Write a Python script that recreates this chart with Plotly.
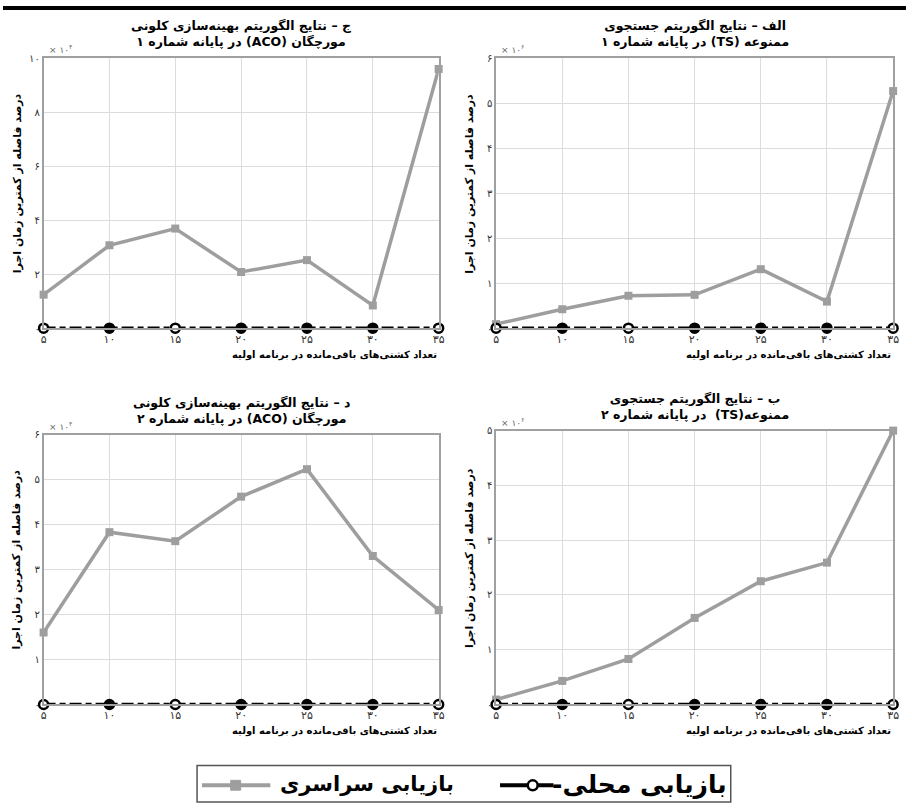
import plotly.graph_objects as go

# ---- data ----
ships = [5, 10, 15, 20, 25, 30, 35]
ship_labels = ["۵", "۱۰", "۱۵", "۲۰", "۲۵", "۳۰", "۳۵"]

# Global recovery (gray) per panel
aco_t1 = [1.24, 3.07, 3.69, 2.08, 2.52, 0.84, 9.6]      # ×10^4
ts_t1 = [0.09, 0.42, 0.72, 0.74, 1.31, 0.59, 5.27]      # ×10^6
aco_t2 = [1.6, 3.83, 3.63, 4.62, 5.23, 3.3, 2.1]        # ×10^4
ts_t2 = [0.09, 0.43, 0.83, 1.58, 2.25, 2.59, 5.0]       # ×10^6
# Local recovery (black)
local = [0, 0, 0, 0, 0, 0, 0]

ytick_vals = {
    "aco1": [0, 2, 4, 6, 8, 10],
    "ts1": [0, 1, 2, 3, 4, 5, 6],
    "aco2": [0, 1, 2, 3, 4, 5, 6],
    "ts2": [0, 1, 2, 3, 4, 5],
}
fa_digits = "۰۱۲۳۴۵۶۷۸۹"


def fa(n):
    return "".join(fa_digits[int(c)] for c in str(n))


def rtl(s):
    return "<br>".join("\u202b" + part + "\u202c" for part in s.split("<br>"))


titles = {
    "aco1": "ج – نتایج الگوریتم بهینه‌سازی کلونی<br>مورچگان (ACO) در پایانه شماره ۱",
    "ts1": "الف – نتایج الگوریتم جستجوی<br>ممنوعه (TS) در پایانه شماره ۱",
    "aco2": "د – نتایج الگوریتم بهینه‌سازی کلونی<br>مورچگان (ACO) در پایانه شماره ۲",
    "ts2": "ب – نتایج الگوریتم جستجوی<br>ممنوعه(TS)  در پایانه شماره ۲",
}
exps = {"aco1": "۴", "ts1": "۶", "aco2": "۴", "ts2": "۶"}
ytitle = "درصد فاصله از کمترین زمان اجرا"
xtitle = "تعداد کشتی‌های باقی‌مانده در برنامه اولیه"
legend_local = "بازیابی محلی"
legend_global = "بازیابی سراسری"

W, H = 912, 809
FONT = "DejaVu Sans"


def px(x):
    return x / W


def py(y):
    return 1 - y / H


panels = [
    # key, data, x0, x1, ytop, ybot, yrange
    ("aco1", aco_t1, 41, 440, 53, 327, 10),
    ("ts1", ts_t1, 498, 899, 53, 327, 6),
    ("aco2", aco_t2, 41, 440, 435, 709, 6),
    ("ts2", ts_t2, 498, 899, 431, 709, 5),
]

fig = go.Figure()
layout = {}
annotations = []
GRAY = "#9e9e9e"
open_pattern = ["white", "black", "white", "black", "black", "black", "white"]

for i, (key, vals, x0, x1, yt, yb, ymax) in enumerate(panels):
    n = "" if i == 0 else str(i + 1)
    xa, ya = "x" + n, "y" + n
    layout["xaxis" + n] = dict(
        domain=[px(x0), px(x1)], range=[5, 35], anchor=ya,
        tickvals=ships, ticktext=ship_labels, showgrid=True, gridcolor="#dcdcdc",
        showline=True, linecolor="#a0a0a0", linewidth=1.5, mirror=True, ticks="",
        tickfont=dict(family=FONT, size=11, color="#333"), zeroline=False,
    )
    yv = ytick_vals[key]
    layout["yaxis" + n] = dict(
        domain=[py(yb), py(yt)], range=[0, ymax], anchor=xa,
        tickvals=yv, ticktext=[fa(v) for v in yv], showgrid=True, gridcolor="#dcdcdc",
        showline=True, linecolor="#a0a0a0", linewidth=1.5, mirror=True, ticks="",
        tickfont=dict(family=FONT, size=10, color="#333"), zeroline=False,
    )
    fig.add_trace(go.Scatter(
        x=ships, y=vals, xaxis=xa, yaxis=ya, mode="lines+markers",
        line=dict(color=GRAY, width=3.5),
        marker=dict(symbol="square", size=8, color=GRAY),
        cliponaxis=False, showlegend=False,
    ))
    fig.add_trace(go.Scatter(
        x=ships, y=local, xaxis=xa, yaxis=ya, mode="lines+markers",
        line=dict(color="black", width=3.5, dash="12px,4px,6px,4px"),
        marker=dict(symbol="circle", size=9, color=open_pattern,
                    line=dict(color="black", width=2.5)),
        cliponaxis=False, showlegend=False,
    ))
    xc = (x0 + x1) / 2
    annotations.append(dict(
        x=px(xc), y=py(yt - 7), xref="paper", yref="paper", xanchor="center",
        yanchor="bottom", text="<b>" + rtl(titles[key]) + "</b>", showarrow=False,
        font=dict(family=FONT, size=12.5, color="black"), align="center",
    ))
    annotations.append(dict(
        x=px(x0 + 3), y=py(yt - 1), xref="paper", yref="paper", xanchor="left",
        yanchor="bottom", text="× ۱۰<sup>" + exps[key] + "</sup>", showarrow=False,
        font=dict(family=FONT, size=9, color="#666"),
    ))
    annotations.append(dict(
        x=px(x1), y=py(yb + 19), xref="paper", yref="paper", xanchor="right",
        yanchor="top", text="<b>" + rtl(xtitle) + "</b>", showarrow=False,
        font=dict(family=FONT, size=10, color="black"),
    ))
    annotations.append(dict(
        x=px(x0 - 27), y=py((yt + yb) / 2 - 10), xref="paper", yref="paper",
        xanchor="center", yanchor="middle", text="<b>" + rtl(ytitle) + "</b>",
        textangle=-90, showarrow=False, font=dict(family=FONT, size=11, color="black"),
    ))

# ---- manual legend ----
shapes = [
    dict(type="line", xref="paper", yref="paper", x0=0, x1=1, y0=py(2), y1=py(2),
         line=dict(color="black", width=4)),
    dict(type="rect", xref="paper", yref="paper", x0=px(196), x1=px(735),
         y0=py(808), y1=py(771), line=dict(color="#555", width=1.5), fillcolor="white"),
    dict(type="line", xref="paper", yref="paper", x0=px(201), x1=px(270),
         y0=py(791), y1=py(791), line=dict(color=GRAY, width=4)),
    dict(type="rect", xref="paper", yref="paper", x0=px(230), x1=px(240),
         y0=py(796), y1=py(786), line=dict(color=GRAY, width=1), fillcolor=GRAY),
    dict(type="line", xref="paper", yref="paper", x0=px(502), x1=px(556),
         y0=py(791), y1=py(791), line=dict(color="black", width=4)),
    dict(type="circle", xref="paper", yref="paper", x0=px(530), x1=px(540),
         y0=py(796), y1=py(786), line=dict(color="black", width=2.5), fillcolor="white"),
]
annotations.append(dict(
    x=px(278), y=py(790), xref="paper", yref="paper", xanchor="left", yanchor="middle",
    text="<b>" + rtl(legend_global) + "</b>", showarrow=False,
    font=dict(family=FONT, size=21, color="black"),
))
annotations.append(dict(
    x=px(733), y=py(790), xref="paper", yref="paper", xanchor="right", yanchor="middle",
    text="<b>" + rtl(legend_local + "-") + "</b>", showarrow=False,
    font=dict(family=FONT, size=25, color="black"),
))

fig.update_layout(
    width=W, height=H, margin=dict(l=0, r=0, t=0, b=0),
    paper_bgcolor="white", plot_bgcolor="white", showlegend=False,
    annotations=annotations, shapes=shapes, **layout,
)
fig.write_html("out.html", post_script="document.body.style.margin='0';",
               config={"displayModeBar": False})
